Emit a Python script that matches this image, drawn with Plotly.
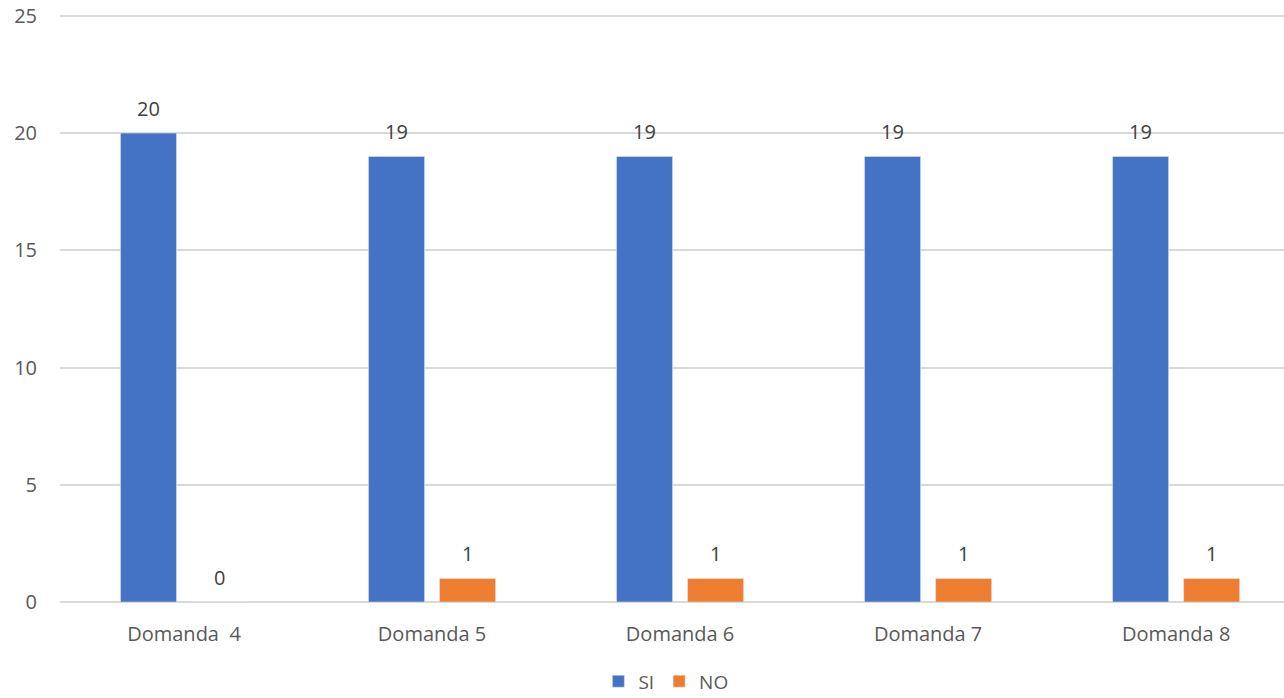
import plotly.graph_objects as go

categories = ["Domanda  4", "Domanda 5", "Domanda 6", "Domanda 7", "Domanda 8"]
si_values = [20, 19, 19, 19, 19]
no_values = [0, 1, 1, 1, 1]
y_ticks = [0, 5, 10, 15, 20, 25]

font = "Open Sans, Liberation Sans, sans-serif"
fs = 20

fig = go.Figure()
fig.add_trace(go.Bar(name="SI", x=categories, y=si_values, marker_color="#4472C4"))
fig.add_trace(go.Bar(name="NO", x=categories, y=no_values, marker_color="#ED7D31"))

# data labels above each bar
for vals, shift in ((si_values, -35.5), (no_values, 35.5)):
    for c, v in zip(categories, vals):
        fig.add_annotation(x=c, y=v, xref="x", yref="y", text=str(v), showarrow=False,
                           xshift=shift, yshift=25, yanchor="middle",
                           font=dict(size=fs, color="#404040", family=font))

fig.update_layout(
    width=1284, height=698,
    margin=dict(l=60, r=0, t=10, b=96, autoexpand=False),
    paper_bgcolor="white", plot_bgcolor="white",
    barmode="group", bargap=0.427, bargroupgap=0.211,
    font=dict(family=font, size=fs, color="#595959"),
    legend=dict(orientation="h", x=0.495, xanchor="center", y=-0.134, yanchor="middle",
                font=dict(size=19, color="#595959"), itemwidth=30, traceorder="normal"),
    xaxis=dict(range=[-0.5, 4.435], showgrid=False, showline=False, ticks="",
               automargin=False, ticklabelstandoff=18,
               tickfont=dict(size=fs, color="#595959")),
    yaxis=dict(range=[0, 25.25], tickvals=y_ticks, showgrid=True, gridcolor="#D9D9D9",
               gridwidth=1.5, zeroline=True, zerolinecolor="#D9D9D9", zerolinewidth=1.5,
               ticks="", automargin=False, ticklabeloverflow="allow", ticklabelstandoff=22,
               tickfont=dict(size=fs, color="#595959")),
)

fig.write_html("out.html", config={"displayModeBar": False},
               post_script="document.body.style.margin='0';")
